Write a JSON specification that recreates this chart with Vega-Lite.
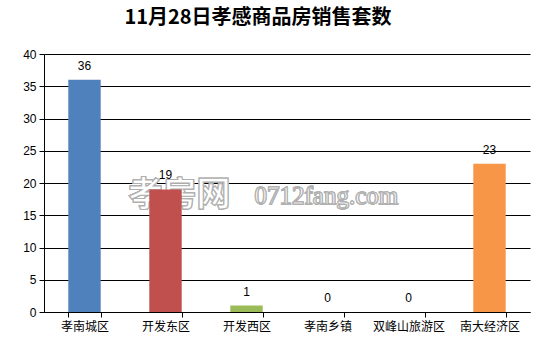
{
  "$schema": "https://vega.github.io/schema/vega-lite/v6.json",
  "width": 486,
  "height": 258,
  "autosize": {"type": "none"},
  "padding": {"left": 44, "top": 54, "right": 9, "bottom": 39},
  "background": "white",
  "title": {
    "text": "11月28日孝感商品房销售套数",
    "font": "Noto Sans CJK SC",
    "fontSize": 20,
    "fontWeight": "bold",
    "color": "#000000",
    "anchor": "middle",
    "dx": -29,
    "offset": 20
  },
  "data": {
    "values": [
      {"区域": "孝南城区", "套数": 36},
      {"区域": "开发东区", "套数": 19},
      {"区域": "开发西区", "套数": 1},
      {"区域": "孝南乡镇", "套数": 0},
      {"区域": "双峰山旅游区", "套数": 0},
      {"区域": "南大经济区", "套数": 23}
    ]
  },
  "config": {
    "view": {"stroke": null},
    "axis": {
      "labelFont": "Liberation Sans",
      "labelFontSize": 12,
      "labelColor": "#000000",
      "domainColor": "#000000",
      "tickColor": "#000000",
      "gridColor": "#000000",
      "gridOpacity": 1,
      "title": null
    }
  },
  "encoding": {
    "x": {
      "field": "区域",
      "type": "nominal",
      "sort": null,
      "scale": {
        "domain": ["孝南城区", "开发东区", "开发西区", "孝南乡镇", "双峰山旅游区", "南大经济区"],
        "paddingInner": 0.6,
        "paddingOuter": 0.3
      },
      "axis": {
        "labelAngle": 0,
        "labelFont": "Noto Sans CJK SC",
        "labelFontSize": 12,
        "labelPadding": 4,
        "tickBand": "extent",
        "tickSize": 5,
        "domainWidth": 1
      }
    },
    "y": {
      "field": "套数",
      "type": "quantitative",
      "scale": {"domain": [0, 40], "nice": false},
      "axis": {
        "values": [0, 5, 10, 15, 20, 25, 30, 35, 40],
        "grid": true,
        "tickSize": 5,
        "labelPadding": 3,
        "domain": true
      }
    }
  },
  "layer": [
    {
      "mark": {"type": "text", "align": "left", "baseline": "middle", "font": "Noto Sans CJK SC", "fontSize": 34, "fontWeight": "bold", "fill": "#ffffff", "stroke": "#b0b0b0", "strokeWidth": 1, "dx": -37, "opacity": 0.8},
      "encoding": {
        "x": {"datum": "开发东区"},
        "y": {"datum": 18.0},
        "text": {"value": "孝房网"}
      }
    },
    {
      "mark": {"type": "text", "align": "left", "baseline": "middle", "font": "Liberation Serif", "fontSize": 25, "fill": "#ffffff", "stroke": "#b0b0b0", "strokeWidth": 1, "dx": 89, "opacity": 0.8},
      "encoding": {
        "x": {"datum": "开发东区"},
        "y": {"datum": 18.0},
        "text": {"value": "0712fang.com"}
      }
    },
    {
      "mark": {"type": "bar"},
      "encoding": {
        "color": {
          "field": "区域",
          "type": "nominal",
          "sort": null,
          "scale": {
            "domain": ["孝南城区", "开发东区", "开发西区", "孝南乡镇", "双峰山旅游区", "南大经济区"],
            "range": ["#4F81BD", "#C0504D", "#9BBB59", "#8064A2", "#4BACC6", "#F79646"]
          },
          "legend": null
        }
      }
    },
    {
      "mark": {"type": "text", "dy": -14, "font": "Liberation Sans", "fontSize": 12, "color": "#000000"},
      "encoding": {"text": {"field": "套数", "type": "quantitative"}}
    }
  ]
}
